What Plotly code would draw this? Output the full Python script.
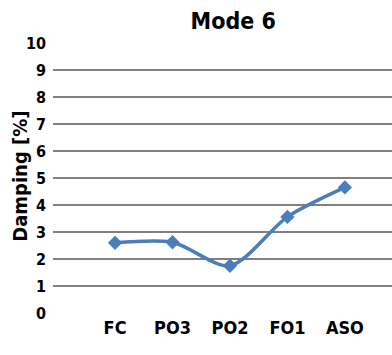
import plotly.graph_objects as go

categories = ["FC", "PO3", "PO2", "FO1", "ASO"]
damping = [2.6, 2.62, 1.75, 3.56, 4.65]
y_ticks = list(range(0, 11))

FONT = "DejaVu Sans Condensed, Liberation Sans Narrow, Arial Narrow, sans-serif"

fig = go.Figure()
fig.add_trace(go.Scatter(
    x=list(range(len(categories))), y=damping,
    mode="lines+markers",
    line=dict(color="#4a7ebb", width=3.5, shape="spline", smoothing=0.8),
    marker=dict(symbol="diamond", size=11, color="#4a7ebb"),
    showlegend=False,
))

fig.update_layout(
    width=392, height=355,
    margin=dict(l=53, r=0, t=43, b=42),
    paper_bgcolor="white", plot_bgcolor="white",
    font=dict(family=FONT, color="black"),
    title=dict(text="<b>Mode 6</b>", x=0.595, xanchor="center", y=0.94, yanchor="middle",
               font=dict(size=23, family=FONT, color="black")),
    xaxis=dict(
        range=[-1.08, 4.82],
        tickmode="array", tickvals=list(range(len(categories))), ticktext=[f"<b>{c}</b>" for c in categories],
        showgrid=False, zeroline=False, showline=False,
        tickfont=dict(size=18, family=FONT), ticks="", ticklabelstandoff=2,
    ),
    yaxis=dict(
        range=[0, 10], tickmode="array", tickvals=y_ticks, ticktext=[f"<b>{t}</b>" for t in y_ticks],
        showgrid=True, gridcolor="#808080", gridwidth=2,
        zeroline=False, showline=False, ticks="", ticklabelstandoff=6,
        tickfont=dict(size=16, family=FONT),
    ),
    annotations=[dict(
        text="<b>Damping [%]</b>", xref="paper", yref="paper",
        x=-0.097, y=0.505, xanchor="center", yanchor="middle",
        textangle=-90, showarrow=False, font=dict(size=20, family=FONT, color="black"),
    )],
)

fig.write_html("out.html")
